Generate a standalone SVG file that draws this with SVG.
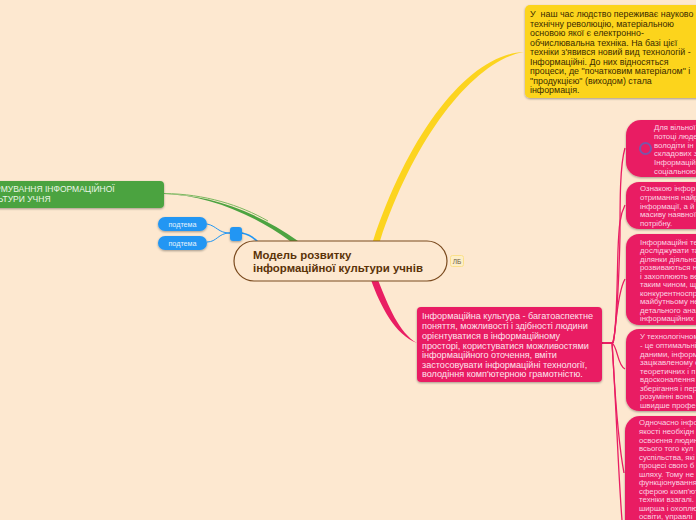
<svg xmlns="http://www.w3.org/2000/svg" width="696" height="520" viewBox="0 0 696 520">
<defs>
<filter id="sh" x="-10%" y="-10%" width="120%" height="125%"><feDropShadow dx="0" dy="1" stdDeviation="0.8" flood-color="#000" flood-opacity="0.35"/></filter>
</defs>
<style>
text{font-family:"Liberation Sans","DejaVu Sans",sans-serif}
.y{font-size:8.9px;fill:#3a2a00}
.p{font-size:7.8px;fill:#fbd3e2}
.m{font-size:9.1px;fill:#fde4ee}
.g{font-size:8.5px;fill:#eaf6e6}
.b{font-size:7.2px;fill:#e3f2fd}
.c{font-size:11.4px;font-weight:bold;fill:#5a3208}
.pk{fill:#e91e63;filter:url(#sh)}
.l{fill:none;stroke:#e91e63}
</style>
<rect width="696" height="520" fill="#fde8d0"/>
<g id="connectors" fill="none">
<path d="M164 194C205 195 250 212 290 241L298 241C255 210 205 194 164 194Z" fill="#4ca340" stroke="none"/>
<path d="M164 193.500C205 194 240 205 268 221" stroke="#7cb85f" stroke-width="1"/>
<path d="M524 52C470 54 410 130 373 241L380 241C415 135 475 60 524 52Z" fill="#fcd41f" stroke="none"/>
<path d="M371 280C380 305 395 335 417 343C399 333 388 305 378 280Z" fill="#e91e63" stroke="none"/>
<path d="M242 233C248 234 253 237 258 242" stroke="#2196f3" stroke-width="1.500"/>
<path d="M207 224C217 226 218 233 230 233M207 242C217 242 218 233 230 233" stroke="#2196f3" stroke-width="1"/>
<path d="M602 343H613" class="l" stroke-width="2"/>
<g class="l" stroke-width="1.3">
<path d="M612 343C616 340 619 280 620 235C620 200 620 165 625 148"/>
<path d="M613 343C617 330 617 280 618 250C619 225 620 215 625 205"/>
<path d="M613 343C616 335 616 295 625 279"/>
<path d="M612 343C618 347 617 365 625 369"/>
<path d="M612 343C614 370 616 430 624 473"/>
<path d="M612 343C616 400 618 470 622 520"/>
</g>
</g>
<g id="n-yellow">
<rect x="525" y="5" width="180" height="93" rx="5" fill="#fcd41f" filter="url(#sh)"/>
<text class="y"><tspan x="530" y="17">У&#160; наш час людство переживає науково</tspan><tspan x="530" y="26.500">технічну революцію, матеріальною</tspan><tspan x="530" y="36">основою якої є електронно-</tspan><tspan x="530" y="45.500">обчислювальна техніка. На базі цієї</tspan><tspan x="530" y="55">техніки з'явився новий вид технологій -</tspan><tspan x="530" y="64.500">Інформаційні. До них відносяться</tspan><tspan x="530" y="74">процеси, де "початковим матеріалом" і</tspan><tspan x="530" y="83.500">"продукцією" (виходом) стала</tspan><tspan x="530" y="93">інформація.</tspan></text>
</g>
<g id="n-green">
<rect x="-40" y="181" width="204" height="27" rx="4" fill="#4ca340" filter="url(#sh)"/>
<text class="g"><tspan x="-18" y="192">ФОРМУВАННЯ ІНФОРМАЦІЙНОЇ</tspan><tspan x="-18" y="202">КУЛЬТУРИ УЧНЯ</tspan></text>
</g>
<g id="n-sub1">
<rect x="158" y="217" width="49" height="14" rx="7" fill="#2196f3" filter="url(#sh)"/>
<text class="b" x="182.500" y="227" text-anchor="middle">подтема</text>
</g>
<g id="n-sub2">
<rect x="158" y="236" width="49" height="14" rx="7" fill="#2196f3" filter="url(#sh)"/>
<text class="b" x="182.500" y="245.500" text-anchor="middle">подтема</text>
</g>
<g id="n-blue">
<rect x="230" y="227" width="12" height="14" rx="3" fill="#2196f3" filter="url(#sh)"/>
</g>
<g id="n-center">
<rect x="234" y="241" width="213" height="40" rx="20" fill="#fde8d0" stroke="#7a4a1e" stroke-width="1.2"/>
<text class="c"><tspan x="253" y="259">Модель розвитку</tspan><tspan x="253" y="272">інформаційної культури учнів</tspan></text>
</g>
<g id="n-label">
<rect x="450.500" y="255.500" width="13" height="11" rx="2" fill="#fdeec8" stroke="#fbe08a"/>
<text x="457" y="264" font-size="6.500" fill="#6a5a40" text-anchor="middle">ЛБ</text>
</g>
<g id="n-main">
<rect x="417" y="307" width="185" height="75" rx="4" class="pk"/>
<text class="m"><tspan x="422" y="319">Інформаційна культура - багатоаспектне</tspan><tspan x="422" y="329">поняття, можливості і здібності людини</tspan><tspan x="422" y="338.500">орієнтуватися в інформаційному</tspan><tspan x="422" y="348.500">просторі, користуватися можливостями</tspan><tspan x="422" y="357.500">інформаційного оточення, вміти</tspan><tspan x="422" y="367.500">застосовувати інформаційні технології,</tspan><tspan x="422" y="377">володіння комп'ютерною грамотністю.</tspan></text>
</g>
<g id="n-p1">
<rect x="626" y="120" width="90" height="57" rx="15" class="pk"/>
<circle cx="645.500" cy="148.500" r="5.500" fill="none" stroke="#7a55a8" stroke-width="2"/>
<text class="p"><tspan x="654" y="130">Для вільної</tspan><tspan x="654" y="139">потоці людей</tspan><tspan x="654" y="147.500">володіти ін</tspan><tspan x="654" y="156">складових з</tspan><tspan x="654" y="165">Інформацій</tspan><tspan x="654" y="173.500">соціальною</tspan></text>
</g>
<g id="n-p2">
<rect x="626" y="182" width="90" height="47" rx="13" class="pk"/>
<text class="p"><tspan x="640" y="191">Ознакою інфор</tspan><tspan x="640" y="200">отримання найр</tspan><tspan x="640" y="208.500">інформації, а й</tspan><tspan x="640" y="217">масиву наявної</tspan><tspan x="640" y="226">потрібну.</tspan></text>
</g>
<g id="n-p3">
<rect x="626" y="234" width="90" height="91" rx="13" class="pk"/>
<text class="p"><tspan x="640" y="244.500">Інформаційні те</tspan><tspan x="640" y="253">досліджувати та</tspan><tspan x="640" y="261.500">ділянки діяльнос</tspan><tspan x="640" y="270">розвиваються ні</tspan><tspan x="640" y="278.500">і захоплюють ве</tspan><tspan x="640" y="287">таким чином, що</tspan><tspan x="640" y="295.500">конкурентноспр</tspan><tspan x="640" y="304">майбутньому не</tspan><tspan x="640" y="312.500">детального ана</tspan><tspan x="640" y="321">інформаційних</tspan></text>
</g>
<g id="n-p4">
<rect x="626" y="329" width="90" height="82" rx="13" class="pk"/>
<text class="p"><tspan x="640" y="339">У технологічном</tspan><tspan x="640" y="348">- це оптимальні</tspan><tspan x="640" y="356.500">даними, інформ</tspan><tspan x="640" y="365">зацікавленому с</tspan><tspan x="640" y="373.500">теоретичних і п</tspan><tspan x="640" y="382">вдосконалення</tspan><tspan x="640" y="390.500">зберігання і пер</tspan><tspan x="640" y="399">розумінні вона</tspan><tspan x="640" y="407.500">швидше профес</tspan></text>
</g>
<g id="n-p5">
<rect x="625" y="416" width="90" height="124" rx="15" class="pk"/>
<text class="p"><tspan x="639" y="425">Одночасно інфо</tspan><tspan x="639" y="434">якості необхідн</tspan><tspan x="639" y="442.500">освоєння людин</tspan><tspan x="639" y="451">всього того кул</tspan><tspan x="639" y="459.500">суспільства, які</tspan><tspan x="639" y="468">процесі свого б</tspan><tspan x="639" y="476.500">шляху. Тому не</tspan><tspan x="639" y="485">функціонування</tspan><tspan x="639" y="493.500">сферою комп'ют</tspan><tspan x="639" y="502">техніки взагалі.</tspan><tspan x="639" y="510.500">ширша і охоплю</tspan><tspan x="639" y="519">освіти, управлі</tspan></text>
</g>
</svg>
